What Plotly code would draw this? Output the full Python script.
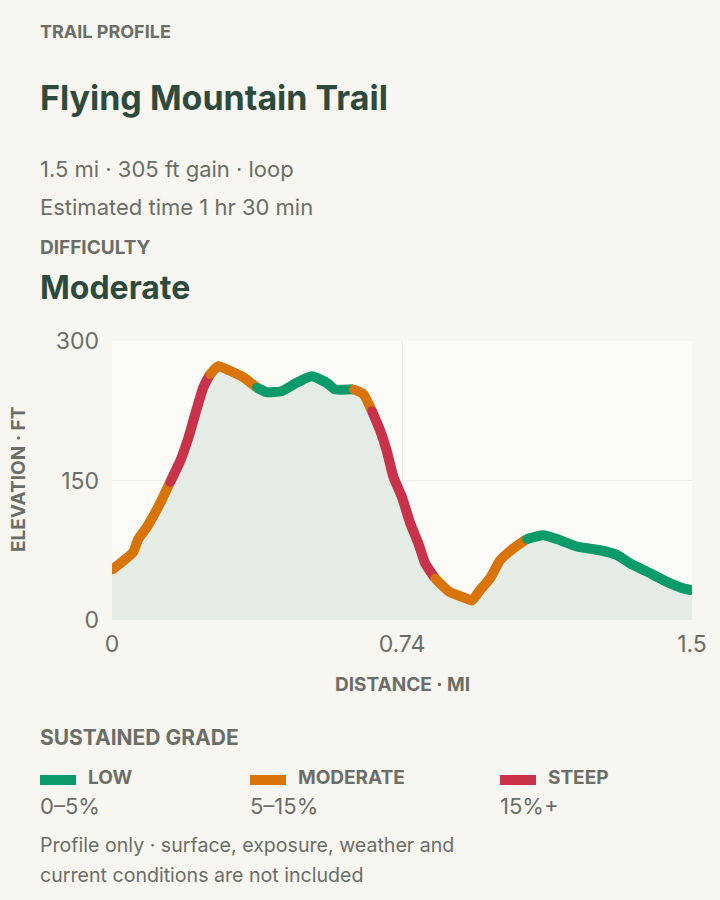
"""
plot.py
Trail elevation profile coloured by sustained grade.
"""
import plotly.graph_objs as go

# distance along trail (mi) and elevation (ft)
distance_mi = [0, 0.054, 0.067, 0.089, 0.122, 0.148, 0.174, 0.195, 0.212, 0.233,
               0.25, 0.271, 0.301, 0.335, 0.369, 0.395, 0.433, 0.471, 0.51, 0.548,
               0.569, 0.616, 0.641, 0.663, 0.684, 0.701, 0.718, 0.74, 0.761, 0.782,
               0.799, 0.824, 0.862, 0.905, 0.918, 0.939, 0.965, 0.99, 1.024, 1.058,
               1.1, 1.135, 1.186, 1.245, 1.288, 1.322, 1.365, 1.416, 1.458, 1.48]
elevation_ft = [54, 73, 87, 100, 125, 148, 171, 196, 221, 250,
                264, 273, 268, 261, 250, 245, 246, 255, 262, 255,
                248, 248, 243, 225, 204, 182, 154, 132, 104, 82,
                61, 45, 30, 23, 21, 32, 45, 64, 77, 87,
                91, 87, 79, 75, 70, 61, 52, 41, 34, 32]
# grade class of the segment that starts at each point
grade_class = (['moderate'] * 5 + ['steep'] * 5 + ['moderate'] * 4 + ['low'] * 7
               + ['moderate'] * 2 + ['steep'] * 8 + ['moderate'] * 8 + ['low'] * 11)

grade_names = ['low', 'moderate', 'steep']
grade_labels = ['LOW', 'MODERATE', 'STEEP']
grade_ranges = ['0–5%', '5–15%', '15%+']
grade_colors = {'low': '#0b9a69', 'moderate': '#d9740b', 'steep': '#c8334a'}

x_ticks = [0, 0.74, 1.48]
x_tick_text = ['0', '0.74', '1.5']
y_ticks = [0, 150, 300]

BG = '#f7f6f1'
PLOT_BG = '#fcfbf8'
DARK = '#2e4a3d'
GRAY = '#6b6e67'
FONT = 'Inter, Roboto, sans-serif'
LINE_W = 10

# plot area in pixels (figure is 720 x 900)
L, R, T, B = 112, 692, 341, 620


def px(x, y):
    """pixel position -> paper coords"""
    return (x - L) / (R - L), (B - y) / (B - T)


fig = go.Figure()

# area under the profile
fig.add_trace(go.Scatter(
    x=distance_mi, y=elevation_ft, mode='lines', fill='tozeroy',
    fillcolor='#e4ece5', line=dict(width=0, shape='spline', smoothing=0.5),
    hoverinfo='skip', showlegend=False))

# grade-coloured runs of the profile line
runs = []
start = 0
for i in range(1, len(distance_mi) - 1):
    if grade_class[i] != grade_class[start]:
        runs.append((start, i, grade_class[start]))
        start = i
runs.append((start, len(distance_mi) - 1, grade_class[start]))

for s, e, g in runs:
    fig.add_trace(go.Scatter(
        x=distance_mi[s:e + 1], y=elevation_ft[s:e + 1], mode='lines',
        line=dict(color=grade_colors[g], width=LINE_W, shape='spline', smoothing=0.5),
        hoverinfo='skip', showlegend=False))

# round caps at run joins and at both ends of the trail
cap_idx = [0] + [s for s, e, g in runs[1:]] + [len(distance_mi) - 1]
cap_col = [grade_colors[grade_class[0]]] + [grade_colors[g] for s, e, g in runs[1:]] \
    + [grade_colors[grade_class[-2]]]
fig.add_trace(go.Scatter(
    x=[distance_mi[i] for i in cap_idx], y=[elevation_ft[i] for i in cap_idx],
    mode='markers', marker=dict(size=LINE_W - 1, color=cap_col, line=dict(width=0)),
    hoverinfo='skip', showlegend=False))

annotations = []


def text(x, y, s, size, color=GRAY, bold=False, xanchor='left', angle=0):
    # annotations carry ~2px of padding on the left
    ax, ay = px(x - 2 if xanchor == 'left' else x, y)
    annotations.append(dict(
        x=ax, y=ay, xref='paper', yref='paper', text=f'<b>{s}</b>' if bold else s,
        showarrow=False, xanchor=xanchor, yanchor='middle', textangle=angle,
        font=dict(family=FONT, size=size, color=color)))


text(40, 31, 'TRAIL PROFILE', 18, bold=True)
text(40, 97, 'Flying Mountain Trail', 34, DARK, bold=True)
text(40, 169, '1.5 mi · 305 ft gain · loop', 22)
text(40, 207, 'Estimated time 1 hr 30 min', 22)
text(40, 247, 'DIFFICULTY', 19, bold=True)
text(40, 287, 'Moderate', 32, DARK, bold=True)
text(18, 480, 'ELEVATION · FT', 19, bold=True, xanchor='center', angle=-90)
text(402, 684, 'DISTANCE · MI', 19, bold=True, xanchor='center')
text(40, 737, 'SUSTAINED GRADE', 21, bold=True)

shapes = []
for k, (g, lab, rng) in enumerate(zip(grade_names, grade_labels, grade_ranges)):
    x0 = [40, 250, 500][k]
    sx0, sy0 = px(x0, 785)
    sx1, sy1 = px(x0 + 36, 775)
    shapes.append(dict(type='rect', xref='paper', yref='paper', x0=sx0, x1=sx1,
                       y0=sy0, y1=sy1, fillcolor=grade_colors[g], line=dict(width=0)))
    text(x0 + 48, 777, lab, 19, bold=True)
    text(x0, 806, rng, 22)

text(40, 845, 'Profile only · surface, exposure, weather and', 19.6)
text(40, 875, 'current conditions are not included', 19.6)

fig.update_layout(
    width=720, height=900,
    margin=dict(l=L, r=720 - R, t=T, b=900 - B),
    paper_bgcolor=BG, plot_bgcolor=PLOT_BG,
    font=dict(family=FONT, color=GRAY),
    annotations=annotations, shapes=shapes,
    showlegend=False,
)
fig.update_xaxes(range=[0, 1.48], tickvals=x_ticks, ticktext=x_tick_text,
                 tickfont=dict(size=23, color=GRAY), ticklabelstandoff=8,
                 showgrid=True, gridcolor='#eeede8', zeroline=False, showline=False,
                 fixedrange=True)
fig.update_yaxes(range=[0, 300], tickvals=y_ticks,
                 tickfont=dict(size=23, color=GRAY), ticklabelstandoff=12,
                 showgrid=True, gridcolor='#eeede8', zeroline=False, showline=False,
                 fixedrange=True)

fig.write_html("out.html", config={'displayModeBar': False},
               post_script="document.body.style.margin='0';"
                           "document.body.style.background='#f7f6f1';")
